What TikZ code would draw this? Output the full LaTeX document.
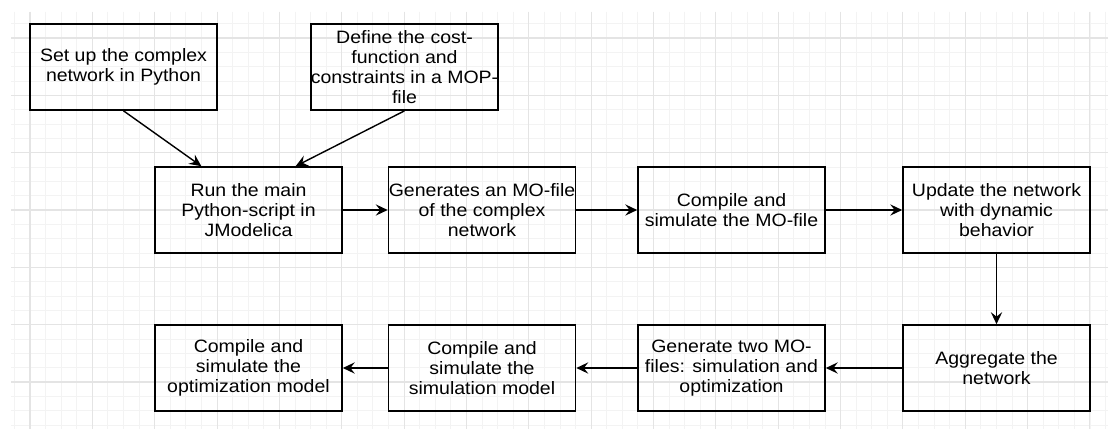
\documentclass[tikz,border=0pt]{standalone}
\usepackage{fontspec}
\setmainfont{Liberation Sans}[FakeStretch=1.088]
\usetikzlibrary{shapes,arrows.meta,calc}

\definecolor{gridminor}{HTML}{F3F3F3}
\definecolor{gridmajor}{HTML}{E4E4E4}

\begin{document}
\begin{tikzpicture}[x=0.02cm,y=-0.02cm,
  box/.style={shape=rectangle,draw=black,align=center,line width=0.95pt,
    minimum width=3.74cm,minimum height=1.72cm,inner sep=0pt,
    font=\fontsize{10.2}{11.5}\selectfont},
  flow/.style={-{Stealth[length=6.8pt,width=6.4pt,inset=2.5pt]},draw=black,line width=0.8pt}]
\useasboundingbox (0,0) rectangle (1108,429);
\fill[white] (0,0) rectangle (1108,429);
% background grid
\foreach \i in {0,...,70} {
  \pgfmathsetmacro{\gx}{14.41+15.5875*\i}
  \draw[gridminor,line width=0.5pt] (\gx,12) -- (\gx,429);
}
\foreach \i in {0,...,29} {
  \pgfmathsetmacro{\gy}{23.67+14.333*\i}
  \draw[gridminor,line width=0.5pt] (11,\gy) -- (1108,\gy);
}
\foreach \i in {0,...,17} {
  \pgfmathsetmacro{\gx}{30+62.35*\i}
  \draw[gridmajor,line width=0.6pt] (\gx,12) -- (\gx,429);
}
\foreach \i in {0,...,6} {
  \pgfmathsetmacro{\gy}{38+57.33*\i}
  \draw[gridmajor,line width=0.6pt] (11,\gy) -- (1108,\gy);
}

\node[box] (0) at (123.5,67) {Set up the complex\\network in Python};
\node[box] (1) at (404.5,67) {Define the cost-\\function and\\constraints in a MOP-\\file};
\node[box] (2) at (248.5,210) {Run the main\\Python-script in\\JModelica};
\node[box] (3) at (482,210) {Generates an MO-file\\of the complex\\network};
\node[box] (4) at (731.5,210) {Compile and\\simulate the MO-file};
\node[box] (5) at (996.5,210) {Update the network\\with dynamic\\behavior};
\node[box] (6) at (996.5,368) {Aggregate the\\network};
\node[box] (7) at (731.5,368) {Generate two MO-\\files: simulation and\\optimization};
\node[box] (8) at (482,368) {Compile and\\simulate the\\simulation model};
\node[box] (9) at (248.5,368) {Compile and\\simulate the\\optimization model};

% entry points on top of the run box
\coordinate (2l) at ($(2.north west)!0.25!(2.north east)$);
\coordinate (2r) at ($(2.north west)!0.75!(2.north east)$);

\draw [flow] (0.south) -- (2l);
\draw [flow] (1.south) -- (2r);
\path [flow] (2) edge node {} (3);
\path [flow] (3) edge node {} (4);
\path [flow] (4) edge node {} (5);
\path [flow] (5) edge node {} (6);
\path [flow] (6) edge node {} (7);
\path [flow] (7) edge node {} (8);
\path [flow] (8) edge node {} (9);
\end{tikzpicture}
\end{document}
